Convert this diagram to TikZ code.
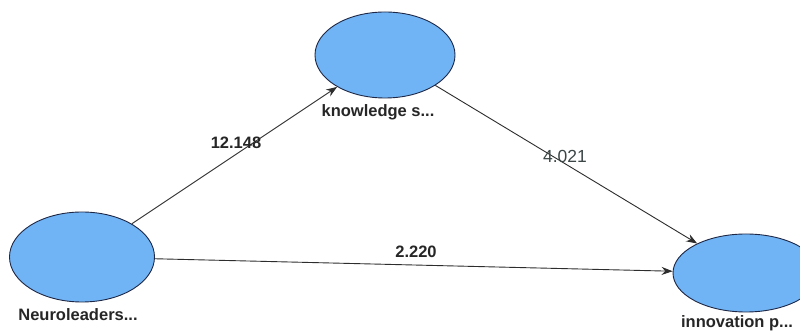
\documentclass[tikz,border=0pt]{standalone}
\usepackage{fontspec}
\setmainfont{Liberation Sans}
\usetikzlibrary{shapes.geometric,arrows.meta}
\definecolor{lvfill}{RGB}{112,180,245}
\definecolor{lvborder}{RGB}{30,40,70}
\definecolor{edgecol}{RGB}{45,45,45}
\definecolor{plaintext}{RGB}{60,70,70}
\tikzset{
  lv/.style={ellipse,draw=lvborder,line width=0.9pt,fill=lvfill,inner sep=0pt},
  lvlabel/.style={font=\bfseries\fontsize{16.5}{18}\selectfont,text=black!85,inner sep=0pt},
  path/.style={draw=edgecol,line width=0.9pt,-{Stealth[length=11pt,width=8pt]}},
  coef/.style={font=\bfseries\fontsize{16.5}{18}\selectfont,text=black!85,inner sep=0pt},
  coefplain/.style={font=\fontsize{17.5}{19}\selectfont,text=plaintext,inner sep=0pt}
}
\begin{document}
\begin{tikzpicture}[x=1pt,y=-1pt]
\useasboundingbox[fill=white] (0,0) rectangle (800,336);
\node[lv,minimum width=145pt,minimum height=90pt] (neuro) at (82,257) {};
\node[lv,minimum width=140pt,minimum height=86pt] (know) at (385,55) {};
\node[lv,minimum width=146pt,minimum height=78pt] (innov) at (746,273) {};
\node[lvlabel] (neurolab) at (78,315) {Neuroleaders...};
\node[lvlabel] (knowlab) at (378,112) {knowledge s...};
\node[lvlabel] (innovlab) at (737,323) {innovation p...};
\draw[path] (neuro) -- (know);
\draw[path] (neuro) -- (innov);
\draw[path] (know) -- (innov);
\node[coef] (c1) at (236,143) {12.148};
\node[coefplain] (c2) at (565,156) {4.021};
\node[coef] (c3) at (416,252) {2.220};
\end{tikzpicture}
\end{document}
